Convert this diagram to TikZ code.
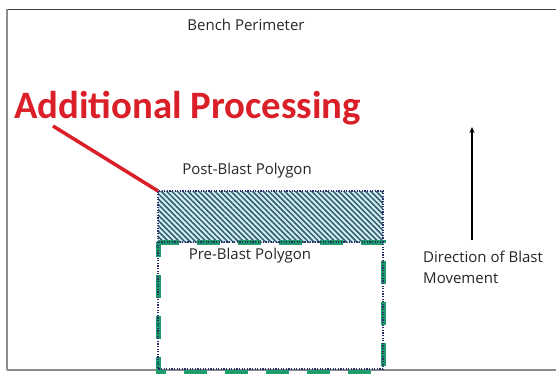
\documentclass[tikz,border=0pt]{standalone}
\usepackage{fontspec}
\setmainfont{Carlito}
\newfontfamily\lblfont{Open Sans}
\usetikzlibrary{patterns.meta,arrows.meta}
\definecolor{redc}{HTML}{DA1F28}
\definecolor{greenc}{HTML}{1E9C6C}
\definecolor{navyc}{HTML}{2A2F6A}
\definecolor{hatchc}{HTML}{34586C}
\definecolor{hatchbg}{HTML}{CDEFF0}
\tikzset{
  lbl/.style={font=\lblfont\fontsize{15}{17}\selectfont, text=black!85, inner sep=0pt},
  border/.style={line width=1.3pt},
  greendash/.style={draw=greenc, line width=5pt, dash pattern=on 23pt off 18pt},
  navydot/.style={draw=navyc, line width=1.2pt, dash pattern=on 1.2pt off 1.4pt},
}
\begin{document}
\begin{tikzpicture}[x=1pt,y=-1pt]
\useasboundingbox (0,0) rectangle (556,374);
\fill[white] (0,0) rectangle (556,374);
% outer bench perimeter
\draw[border, draw=black!75] (7,9.5) -- (556,9.5);
\draw[border, draw=black!45] (7,9.5) -- (7,370);
\draw[border, draw=black!45] (7,370) -- (556,370);
% post-blast hatched polygon
\fill[hatchbg] (158,191) rectangle (383,242);
\fill[pattern={Lines[angle=-45,distance=3.8pt,line width=1.5pt]}, pattern color=hatchc] (158,191) rectangle (383,242);
\draw[navydot] (158,242) -- (158,191) -- (383,191) -- (383,242);
% pre-blast polygon
\draw[greendash, dash phase=2pt] (158,242) -- (383,242) -- (383,372) -- (158,372) -- cycle;
\draw[navydot] (158,242) rectangle (383,369);
\coordinate (corner) at (158,191);
% texts
\node[lbl] (bench) at (246,25) {Bench Perimeter};
\node[lbl] (post) at (247,171) {Post-Blast Polygon};
\node[lbl] (pre) at (250,256) {Pre-Blast Polygon};
\node[lbl, anchor=west] (dir1) at (423,257) {Direction of Blast};
\node[lbl, anchor=west] (dir2) at (423,278) {Movement};
\node[font=\fontsize{38.8}{42}\selectfont\bfseries, text=redc, inner sep=0pt, anchor=base west] (add) at (14,119) {Additional Processing};
% red pointer
\coordinate (redstart) at (53,126);
\draw[redc, line width=3.5pt] (redstart) -- (corner);
% arrow
\coordinate (arrbot) at (472,240);
\coordinate (arrtop) at (472,127);
\draw[line width=1.2pt, -{Stealth[length=6pt,width=5pt]}] (arrbot) -- (arrtop);
\end{tikzpicture}
\end{document}
